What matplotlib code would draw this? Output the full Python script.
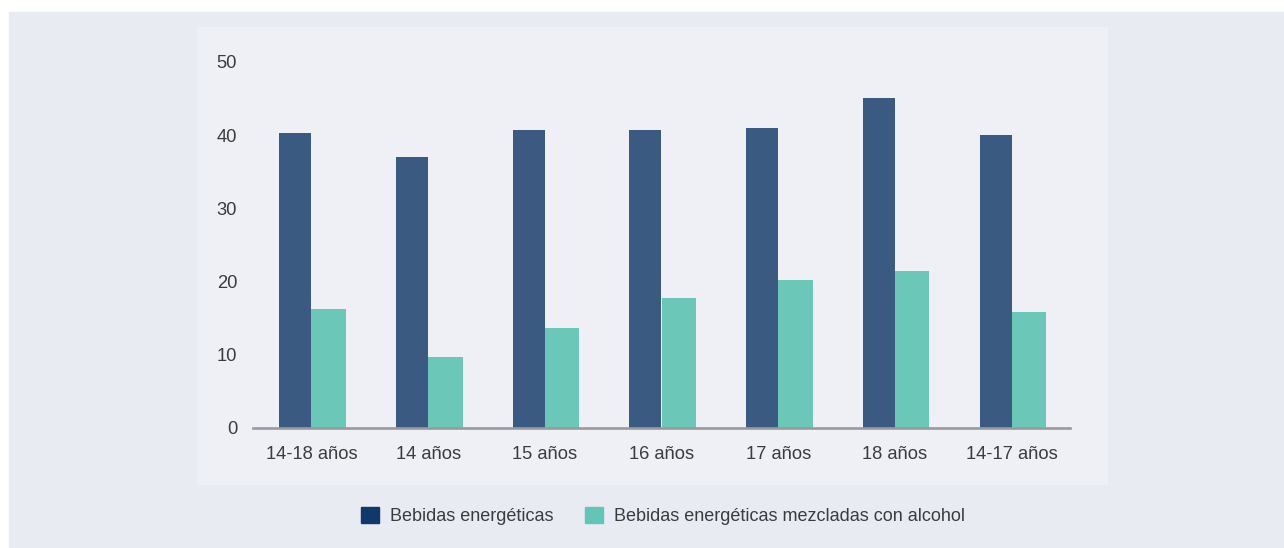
import matplotlib
matplotlib.use("Agg")
import matplotlib.pyplot as plt
from matplotlib.patches import Patch, Rectangle
import numpy as np

grupos = ["14-18 años", "14 años", "15 años", "16 años", "17 años", "18 años", "14-17 años"]
energeticas = [40.3, 37.0, 40.7, 40.7, 41.0, 45.1, 40.0]
con_alcohol = [16.3, 9.7, 13.7, 17.8, 20.2, 21.4, 15.8]
yticks = [0, 10, 20, 30, 40, 50]
serie_labels = ["Bebidas energéticas", "Bebidas energéticas mezcladas con alcohol"]

c_dark = "#3b5a82"
c_teal = "#6bc7b8"
txt = "#3c3c3c"

plt.rcParams["font.family"] = ["Liberation Sans", "DejaVu Sans"]

fig = plt.figure(figsize=(12.84, 5.48), dpi=100)
# fondos
fig.patches.append(Rectangle((9 / 1284, 0), 1 - 9 / 1284, 536 / 548,
                             transform=fig.transFigure, color="#e9ebf3", zorder=-2))
fig.patches.append(Rectangle((197 / 1284, 1 - 484 / 548), 910 / 1284, 457 / 548,
                             transform=fig.transFigure, color="#eef0f6", zorder=-1))

ax = fig.add_axes([253 / 1284, 1 - 428 / 548, 817 / 1284, (428 - 62) / 548])
ax.set_facecolor("none")

x = np.arange(len(grupos))
ax.bar(x - 0.275 / 2, energeticas, width=0.275, color=c_dark, zorder=2)
ax.bar(x + 0.295 / 2, con_alcohol, width=0.295, color=c_teal, zorder=2)

ax.set_xlim(-0.5, 6.5)
ax.set_ylim(0, 50)
ax.set_yticks(yticks)
ax.set_xticks(x)
ax.set_xticklabels(grupos)
ax.tick_params(axis="both", length=0, labelsize=13.2, labelcolor=txt)
ax.tick_params(axis="y", pad=11.5)
ax.tick_params(axis="x", pad=13)
for s in ["top", "right", "left"]:
    ax.spines[s].set_visible(False)
ax.spines["bottom"].set_color("#9a9a9a")
ax.spines["bottom"].set_linewidth(1.9)
ax.spines["bottom"].set_zorder(3)

handles = [Patch(color="#12386b"), Patch(color="#62c5b6")]
fig.legend(handles, serie_labels, loc="center", bbox_to_anchor=(663 / 1284, 1 - 516 / 548),
           ncol=2, frameon=False, fontsize=13, handlelength=1.0, handleheight=1.0,
           handletextpad=0.6, columnspacing=1.75, labelcolor=txt)

plt.savefig("out.png", dpi=100)
